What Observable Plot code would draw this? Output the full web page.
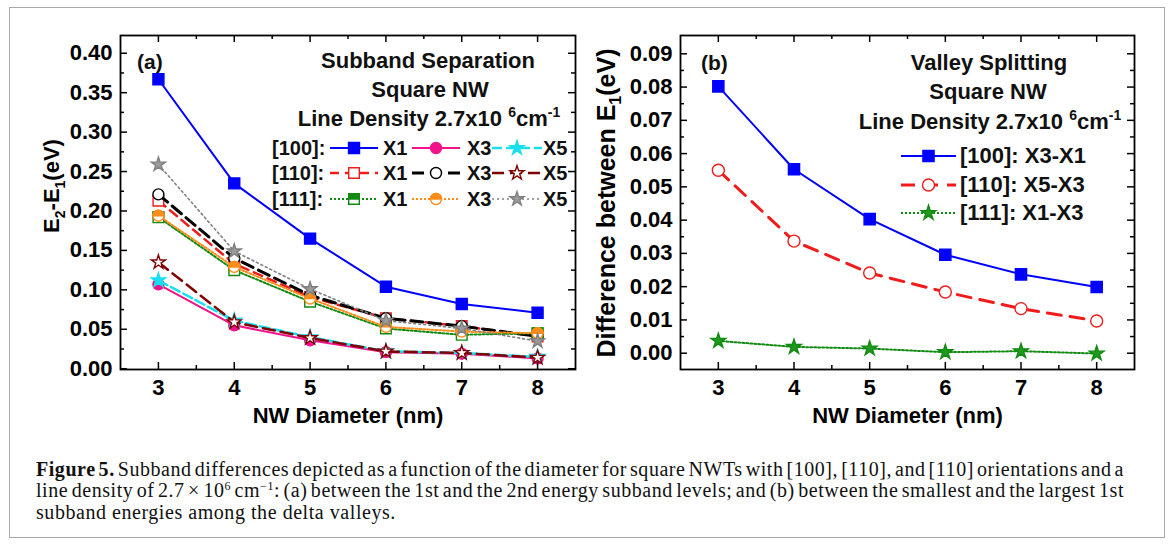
<!DOCTYPE html>
<html><head><meta charset="utf-8">
<script src="https://cdn.jsdelivr.net/npm/d3@7"></script>
<script src="https://cdn.jsdelivr.net/npm/@observablehq/plot@0.6"></script>
<style>
html,body{margin:0;padding:0;background:#fff;}
#root{position:relative;width:1171px;height:546px;overflow:hidden;background:#fff;font-family:'Liberation Sans',Arial,sans-serif;color:#111;}
#border{position:absolute;left:9px;top:7px;width:1156px;height:531px;border:1.5px solid #a8a8a8;box-sizing:border-box;}
.panel{position:absolute;top:0;}
.ann{position:absolute;font-weight:bold;font-size:22px;line-height:22px;white-space:nowrap;transform:translate(-50%,-50%);}
.lab{position:absolute;font-weight:bold;line-height:22px;white-space:nowrap;transform:translateY(-50%);}
.sup{font-size:14px;position:relative;top:-9px;}
.samp{position:absolute;transform:translateY(-50%);}
#caption{position:absolute;left:36px;top:459px;width:1088px;font-family:'Liberation Serif','Times New Roman',serif;font-size:20px;line-height:21.3px;color:#111;letter-spacing:0.55px;}
#caption .ln{white-space:nowrap;display:block;}
#caption .ln span.inner{display:inline-block;}
#caption sup{font-size:12px;line-height:0;vertical-align:7px;}
</style></head>
<body>
<div id="root">
  <div id="border"></div>
</div>
<script>
// ---------- data ----------
const diameters = [3, 4, 5, 6, 7, 8];

// Panel (a): E2 - E1 (eV)
const a100_X1 = [0.367, 0.235, 0.165, 0.104, 0.082, 0.071];
const a100_X3 = [0.107, 0.055, 0.036, 0.021, 0.019, 0.013];
const a100_X5 = [0.112, 0.061, 0.040, 0.022, 0.020, 0.015];
const a110_X1 = [0.213, 0.133, 0.091, 0.064, 0.054, 0.041];
const a110_X3 = [0.221, 0.140, 0.093, 0.064, 0.054, 0.041];
const a110_X5 = [0.135, 0.059, 0.039, 0.022, 0.020, 0.014];
const a111_X1 = [0.192, 0.125, 0.085, 0.051, 0.043, 0.045];
const a111_X3 = [0.194, 0.129, 0.089, 0.053, 0.047, 0.045];
const a111_X5 = [0.259, 0.149, 0.101, 0.061, 0.051, 0.035];

// Panel (b): difference between E1 (eV)
const b100_X3X1 = [0.0802, 0.0553, 0.0403, 0.0296, 0.0237, 0.0199];
const b110_X5X3 = [0.0550, 0.0337, 0.0241, 0.0184, 0.0134, 0.0097];
const b111_X1X3 = [0.0037, 0.0019, 0.0014, 0.0003, 0.0006, -0.0001];

// ticks
const xMajor = [3, 4, 5, 6, 7, 8];
const xMinor = [3.5, 4.5, 5.5, 6.5, 7.5];
const yMajorA = [0, 0.05, 0.10, 0.15, 0.20, 0.25, 0.30, 0.35, 0.40];
const yMinorA = [0.025, 0.075, 0.125, 0.175, 0.225, 0.275, 0.325, 0.375];
const yMajorB = [0, 0.01, 0.02, 0.03, 0.04, 0.05, 0.06, 0.07, 0.08, 0.09];
const yMinorB = [0.005, 0.015, 0.025, 0.035, 0.045, 0.055, 0.065, 0.075, 0.085];

// ---------- symbols ----------
const halfSquare = {draw(ctx, size){const s=Math.sqrt(size);ctx.moveTo(-s/2,-s/2);ctx.lineTo(s/2,-s/2);ctx.lineTo(s/2,0);ctx.lineTo(-s/2,0);ctx.closePath();}};
const halfCircle = {draw(ctx, size){const r=Math.sqrt(size/Math.PI);ctx.moveTo(-r,0);ctx.arc(0,0,r,Math.PI,2*Math.PI);ctx.closePath();}};
const d3sym = {square: d3.symbolSquare, circle: d3.symbolCircle, star: d3.symbolStar};

// ---------- series styles ----------
const seriesA = [
  {v: a100_X1, color:"#0000ff", lw:2, dash:null, sym:"square", fill:"#0000ff", r:6.2},
  {v: a100_X3, color:"#f0138a", lw:2, dash:null, sym:"circle", fill:"#f0138a", r:5.5},
  {v: a100_X5, color:"#19dff0", lw:2.5, dash:"10,4", sym:"star", fill:"#19dff0", r:4.5},
  {v: a110_X1, color:"#f01c1c", lw:2.5, dash:"9,6", sym:"square", fill:"white", r:6},
  {v: a110_X3, color:"#000000", lw:3, dash:"12,6", sym:"circle", fill:"white", r:5.5},
  {v: a110_X5, color:"#800000", lw:2.5, dash:"12,6", sym:"star", fill:"white", r:4.4},
  {v: a111_X1, color:"#118a11", lw:2, dash:"2,2", sym:"square", fill:"white", half:halfSquare, r:6},
  {v: a111_X3, color:"#ff8c1a", lw:2, dash:"2,2", sym:"circle", fill:"white", half:halfCircle, r:5.5},
  {v: a111_X5, color:"#808080", lw:1.6, dash:"2,3", sym:"star", fill:"#9a9a9a", r:4.4}
];
const seriesB = [
  {v: b100_X3X1, color:"#0000ff", lw:2, dash:null, sym:"square", fill:"#0000ff", r:6.3},
  {v: b110_X5X3, color:"#f01c1c", lw:3, dash:"14,9", sym:"circle", fill:"white", r:6},
  {v: b111_X1X3, color:"#118a11", lw:2, dash:"2,2", sym:"star", fill:"#1f9a1f", r:4.6}
];

function rowsOf(vals){ return diameters.map((d,i)=>({d, v: vals[i]})); }
function seriesMarks(st){
  const rows = rowsOf(st.v);
  const m = [Plot.line(rows, {x:"d", y:"v", stroke: st.color, strokeWidth: st.lw, strokeDasharray: st.dash || undefined})];
  m.push(Plot.dot(rows, {x:"d", y:"v", symbol: st.sym, r: st.r, fill: st.fill, stroke: st.color, strokeWidth: 1.4}));
  if (st.half) m.push(Plot.dot(rows, {x:"d", y:"v", symbol: st.half, r: st.r, fill: st.color, stroke: st.color, strokeWidth: 1.4}));
  return m;
}
function tickMarks(yMaj, yMin, innerW, innerH){
  return [
    Plot.tickY(yMaj, {y: d=>d, insetRight: innerW-7, stroke:"#000", strokeWidth:1.5}),
    Plot.tickY(yMin, {y: d=>d, insetRight: innerW-4, stroke:"#000", strokeWidth:1.5}),
    Plot.tickY(yMaj, {y: d=>d, insetLeft: innerW-7, stroke:"#000", strokeWidth:1.5}),
    Plot.tickY(yMin, {y: d=>d, insetLeft: innerW-4, stroke:"#000", strokeWidth:1.5}),
    Plot.tickX(xMajor, {x: d=>d, insetTop: innerH-7, stroke:"#000", strokeWidth:1.5}),
    Plot.tickX(xMinor, {x: d=>d, insetTop: innerH-4, stroke:"#000", strokeWidth:1.5}),
    Plot.tickX(xMajor, {x: d=>d, insetBottom: innerH-7, stroke:"#000", strokeWidth:1.5}),
    Plot.tickX(xMinor, {x: d=>d, insetBottom: innerH-4, stroke:"#000", strokeWidth:1.5})
  ];
}
const font = "'Liberation Sans', Arial, sans-serif";
function panel({width, mL, mR, yDomain, yMaj, yMin, series}){
  const H = 430, mT = 35, mB = 61;
  const innerW = width - mL - mR, innerH = H - mT - mB;
  return Plot.plot({
    width, height: H, marginLeft: mL, marginRight: mR, marginTop: mT, marginBottom: mB,
    style: {fontFamily: font, fontWeight: "bold", fontSize: "22px", color: "#000", background: "transparent", overflow: "visible"},
    x: {domain: [2.5, 8.5]},
    y: {domain: yDomain},
    marks: [
      ...series.flatMap(seriesMarks),
      ...tickMarks(yMaj, yMin, innerW, innerH),
      Plot.frame({stroke: "#000", strokeWidth: 1.8}),
      Plot.axisY(yMaj, {tickSize: 0, tickPadding: 8, tickFormat: d3.format(".2f"), fontSize: 22, fontWeight: "bold", label: null}),
      Plot.axisX(xMajor, {tickSize: 0, tickPadding: 10, fontSize: 22, fontWeight: "bold", label: null}),
      Plot.text(["NW Diameter (nm)"], {text: d=>d, frameAnchor: "bottom", lineAnchor: "middle", dy: 46, fontSize: 22, fontWeight: "bold", fill: "#000"})
    ]
  });
}
function yTitle(svg, x, y, parts, fs){
  const t = d3.select(svg).append("text")
    .attr("transform", `translate(${x},${y}) rotate(-90)`)
    .attr("text-anchor", "middle").attr("font-size", fs).attr("font-weight", "bold")
    .attr("font-family", font).attr("fill", "#000");
  let shifted = false;
  parts.forEach(([s, sub]) => {
    const ts = t.append("tspan").text(s);
    if (sub && !shifted){ ts.attr("dy", 6).attr("font-size", Math.round(fs*0.62)); shifted = true; }
    else if (sub){ ts.attr("font-size", Math.round(fs*0.62)); }
    else if (shifted){ ts.attr("dy", -6); shifted = false; }
  });
}

const root = document.getElementById("root");

// Panel (a)
const svgA = panel({width: 585, mL: 120, mR: 10, yDomain: [-0.001, 0.4225], yMaj: yMajorA, yMin: yMinorA, series: seriesA});
yTitle(svgA, 59, 186, [["E",0],["2",1],["-E",0],["1",1],["(eV)",0]], 22);
svgA.classList.add("panel"); svgA.style.left = "0px";
root.appendChild(svgA);

// Panel (b)
const svgB = panel({width: 586, mL: 95, mR: 37, yDomain: [-0.0049, 0.0955], yMaj: yMajorB, yMin: yMinorB, series: seriesB});
yTitle(svgB, 30, 203, [["Difference between E",0],["1",1],["(eV)",0]], 25);
svgB.classList.add("panel"); svgB.style.left = "585px";
root.appendChild(svgB);

// ---------- annotations ----------
function ann(html, cx, cy, cls="ann", fs=22){
  const d = document.createElement("div"); d.className = cls; d.innerHTML = html;
  d.style.left = cx + "px"; d.style.top = cy + "px"; d.style.fontSize = fs + "px";
  root.appendChild(d); return d;
}
const lineDensity = 'Line Density 2.7x10 <span class="sup">6</span>cm<span class="sup">-1</span>';
ann("(a)", 137, 62, "lab", 21);
ann("Subband Separation", 428, 61);
ann("Square NW", 430, 90);
ann(lineDensity, 429, 120);
ann("(b)", 701, 63, "lab", 21);
ann("Valley Splitting", 989, 63);
ann("Square NW", 988, 92);
ann(lineDensity, 990, 123);

// ---------- legends ----------
function sample(st, w, cx, cy){
  const h = 22;
  const s = d3.create("svg").attr("width", w).attr("height", h).attr("class", "samp")
    .style("left", cx + "px").style("top", cy + "px").style("overflow", "visible");
  s.append("line").attr("x1", 0).attr("x2", w).attr("y1", h/2).attr("y2", h/2)
    .attr("stroke", st.color).attr("stroke-width", st.lw).attr("stroke-dasharray", st.dash || null);
  const size = Math.PI * st.r * st.r;
  s.append("path").attr("d", d3.symbol(d3sym[st.sym], size)()).attr("transform", `translate(${w/2},${h/2})`)
    .attr("fill", st.fill).attr("stroke", st.color).attr("stroke-width", 1.4);
  if (st.half) s.append("path").attr("d", d3.symbol(st.half, size)()).attr("transform", `translate(${w/2},${h/2})`)
    .attr("fill", st.color).attr("stroke", st.color).attr("stroke-width", 1.4);
  root.appendChild(s.node());
}
const legRowsA = ["[100]:", "[110]:", "[111]:"];
const legNamesA = ["X1", "X3", "X5"];
const legYA = [147.5, 173, 199];
legRowsA.forEach((lab, i) => {
  ann(lab, 272, legYA[i], "lab", 20);
  const sx = [330, 412, 492], sw = [48, 48, 50], tx = [383, 467, 543];
  for (let j = 0; j < 3; j++){
    sample(seriesA[i*3 + j], sw[j], sx[j], legYA[i]);
    ann(legNamesA[j], tx[j], legYA[i], "lab", 20);
  }
});
const legNamesB = ["[100]: X3-X1", "[110]: X5-X3", "[111]: X1-X3"];
const legYB = [156, 185, 213];
legNamesB.forEach((lab, i) => {
  sample(seriesB[i], 55, 901, legYB[i]);
  ann(lab, 960, legYB[i], "lab", 22);
});

// ---------- caption ----------
const cap = document.createElement("div"); cap.id = "caption";
cap.innerHTML =
  '<span class="ln"><span class="inner"><b>Figure 5.</b> Subband differences depicted as a function of the diameter for square NWTs with [100], [110], and [110] orientations and a</span></span>' +
  '<span class="ln"><span class="inner">line density of 2.7 × 10<sup>6</sup> cm<sup>−1</sup>: (a) between the 1st and the 2nd energy subband levels; and (b) between the smallest and the largest 1st</span></span>' +
  '<span class="ln"><span class="inner">subband energies among the delta valleys.</span></span>';
root.appendChild(cap);
const inners = cap.querySelectorAll(".inner");
[0, 1].forEach(k => {
  const el = inners[k];
  const w = el.getBoundingClientRect().width;
  const nSp = (el.textContent.match(/ /g) || []).length;
  el.style.wordSpacing = ((1088 - w) / nSp) + "px";
});
</script>
</body></html>
